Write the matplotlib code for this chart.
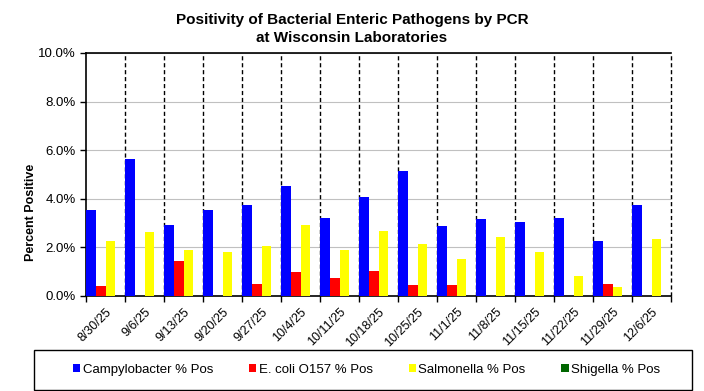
import numpy as np
import matplotlib
matplotlib.use("Agg")
import matplotlib.pyplot as plt
import matplotlib.ticker as plticker
from matplotlib.patches import Rectangle

weeks = ["8/30/25", "9/6/25", "9/13/25", "9/20/25", "9/27/25", "10/4/25",
         "10/11/25", "10/18/25", "10/25/25", "11/1/25", "11/8/25",
         "11/15/25", "11/22/25", "11/29/25", "12/6/25"]
campylobacter = [3.54, 5.65, 2.93, 3.54, 3.75, 4.53, 3.21, 4.08, 5.15, 2.88,
                 3.17, 3.05, 3.21, 2.27, 3.75]
ecoli = [0.41, 0.0, 1.44, 0.0, 0.49, 0.99, 0.74, 1.03, 0.45, 0.45,
         0.0, 0.0, 0.0, 0.49, 0.0]
salmonella = [2.27, 2.64, 1.90, 1.81, 2.06, 2.93, 1.90, 2.68, 2.14, 1.52,
              2.43, 1.81, 0.82, 0.37, 2.35]
shigella = [0.0] * 15

series = [("Campylobacter % Pos", campylobacter, "#0000ff"),
          ("E. coli O157 % Pos", ecoli, "#ff0000"),
          ("Salmonella % Pos", salmonella, "#ffff00"),
          ("Shigella % Pos", shigella, "#006600")]

plt.rcParams["font.family"] = ["Liberation Sans", "DejaVu Sans"]

fig = plt.figure(figsize=(7.04, 3.91), dpi=100)
ax = fig.add_axes([0.1222, 0.243, 0.8310, 0.6215])

x = np.arange(len(weeks))
w = 0.25
for k, (name, vals, col) in enumerate(series):
    ax.bar(x - 0.375 + k * w, vals, width=w, color=col, label=name,
           zorder=3, linewidth=0)

# dashed separators between weeks (last one is the right border)
for b in np.arange(0.5, len(weeks), 1.0):
    ax.axvline(b, color="black", linestyle=(0, (3, 2)), linewidth=1,
               zorder=2, clip_on=False)

ax.set_xlim(-0.5, len(weeks) - 0.5)
ax.set_ylim(0, 10)
ax.yaxis.set_major_locator(plticker.MultipleLocator(2))
ax.yaxis.set_major_formatter(plticker.FuncFormatter(lambda v, p: "%.1f%%" % v))
ax.yaxis.grid(True, color="#c0c0c0", linewidth=0.8, zorder=1)

ax.set_xticks(np.arange(-0.5, len(weeks), 1.0))
ax.set_xticklabels([])
ax.set_xticks(x, minor=True)
ax.set_xticklabels(weeks, minor=True, rotation=45, ha="right",
                   rotation_mode="anchor", fontsize=9)
ax.tick_params(axis="x", which="minor", length=0, pad=7)
ax.tick_params(axis="x", which="major", length=4, direction="out", width=1)
ax.tick_params(axis="y", length=4, direction="out", width=1, labelsize=9.5)

ax.spines["right"].set_visible(False)
for s in ["left", "bottom", "top"]:
    ax.spines[s].set_linewidth(1.2)

ax.set_ylabel("Percent Positive", fontsize=9, fontweight="bold")
ax.yaxis.set_label_coords(-0.084, 0.346)
fig.text(0.5, 0.966, "Positivity of Bacterial Enteric Pathogens by PCR\nat Wisconsin Laboratories",
         ha="center", va="top", fontsize=11, fontweight="bold", linespacing=1.3)

# legend box
fig.patches.append(Rectangle((0.0483, 0.0026), 0.9347, 0.1023,
                             transform=fig.transFigure, fill=False,
                             edgecolor="black", linewidth=1))
leg = fig.legend(loc="center", bbox_to_anchor=(0.521, 0.0537), ncol=4,
                 fontsize=9.5, handlelength=0.55, handleheight=0.55,
                 handletextpad=0.2, columnspacing=2.7, borderaxespad=0,
                 frameon=False)

fig.savefig("out.png", dpi=100)
